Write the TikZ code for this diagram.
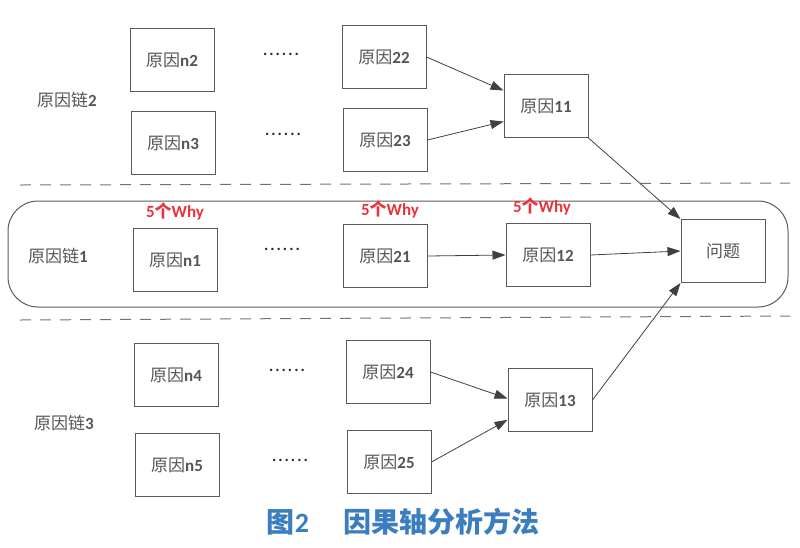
\documentclass[tikz,border=0pt]{standalone}
\usepackage{fontspec}
\setmainfont{Carlito}
\newfontfamily\cjk{Noto Sans CJK SC}
\usetikzlibrary{arrows.meta}
\definecolor{boxgray}{HTML}{5A5A5A}
\definecolor{txtgray}{HTML}{555555}
\definecolor{whyred}{HTML}{E8333A}
\definecolor{capblue}{HTML}{3A7EC0}
\tikzset{
  cause/.style={draw=boxgray, line width=1pt, minimum width=84pt, minimum height=63pt, inner sep=0pt, text=txtgray, font=\fontsize{17}{20}\selectfont},
  chainlbl/.style={text=txtgray, font=\fontsize{17}{20}\selectfont},
  dotsl/.style={text=black!85, font=\bfseries\fontsize{16}{18}\selectfont},
  why/.style={text=whyred, font=\bfseries\fontsize{17}{20}\selectfont},
  link/.style={draw=black!75, line width=0.8pt, -{Triangle[length=13pt,width=9pt]}},
  sep/.style={draw=black!55, line width=1pt, dash pattern=on 11pt off 9pt},
}
\newcommand{\yy}[1]{{\cjk 原因}\textbf{#1}}
\newcommand{\dd}{.\hspace{2pt}.\hspace{2pt}.\hspace{2pt}.\hspace{2pt}.\hspace{2pt}.}
\begin{document}
\begin{tikzpicture}[x=1pt,y=-1pt]
\useasboundingbox (0,0) rectangle (800,547);
% separators and chain-1 frame
\coordinate (s1a) at (20,185); \coordinate (s1b) at (790,183);
\coordinate (s2a) at (20,320); \coordinate (s2b) at (790,316);
\draw[sep] (s1a) -- (s1b);
\draw[sep] (s2a) -- (s2b);
\node[draw=boxgray, line width=1pt, rounded corners=30pt, minimum width=780pt, minimum height=106pt, inner sep=0pt] (frame) at (398,254) {};
% chain labels
\node[chainlbl] (c2) at (67,100) {{\cjk 原因链}\textbf{2}};
\node[chainlbl] (c1) at (58,256) {{\cjk 原因链}\textbf{1}};
\node[chainlbl] (c3) at (64,423) {{\cjk 原因链}\textbf{3}};
% chain 2
\node[cause] (n2) at (172,60) {\yy{n2}};
\node[cause] (n3) at (173,143) {\yy{n3}};
\node[cause] (r22) at (384,57) {\yy{22}};
\node[cause] (r23) at (385,140) {\yy{23}};
\node[cause] (r11) at (546,106) {\yy{11}};
\node[dotsl] (d2) at (281,54) {\dd};
\node[dotsl] (d3) at (283,134) {\dd};
% chain 1
\node[cause] (n1) at (175,260) {\yy{n1}};
\node[cause] (r21) at (385,256) {\yy{21}};
\node[cause] (r12) at (548,255) {\yy{12}};
\node[cause] (q) at (723,251) {{\cjk 问题}};
\node[dotsl] (d1) at (282,249) {\dd};
\node[why] (w1) at (175,212) {5{\cjk 个}Why};
\node[why] (w2) at (390,210) {5{\cjk 个}Why};
\node[why] (w3) at (542,207) {5{\cjk 个}Why};
% chain 3
\node[cause] (n4) at (176,375) {\yy{n4}};
\node[cause] (n5) at (177,465) {\yy{n5}};
\node[cause] (r24) at (388,372) {\yy{24}};
\node[cause] (r25) at (389,462) {\yy{25}};
\node[cause] (r13) at (550,400) {\yy{13}};
\node[dotsl] (d4) at (287,370) {\dd};
\node[dotsl] (d5) at (290,460) {\dd};
% connectors
\draw[link] (r22.east) -- (r11.160);
\draw[link] (r23.east) -- (r11.200);
\draw[link] (r11.south east) -- (q.north west);
\draw[link] (r21.east) -- (r12.west);
\draw[link] (r12.east) -- (q.west);
\draw[link] (r24.east) -- (r13.178);
\draw[link] (r25.east) -- (r13.205);
\draw[link] (r13.east) -- (q.south west);
% caption
\node[text=capblue, font=\fontsize{28}{32}\selectfont] (cap) at (403,522) {{\cjk\bfseries 图}\textbf{2}\hspace{34pt}{\cjk\bfseries 因果轴分析方法}};
\end{tikzpicture}
\end{document}
